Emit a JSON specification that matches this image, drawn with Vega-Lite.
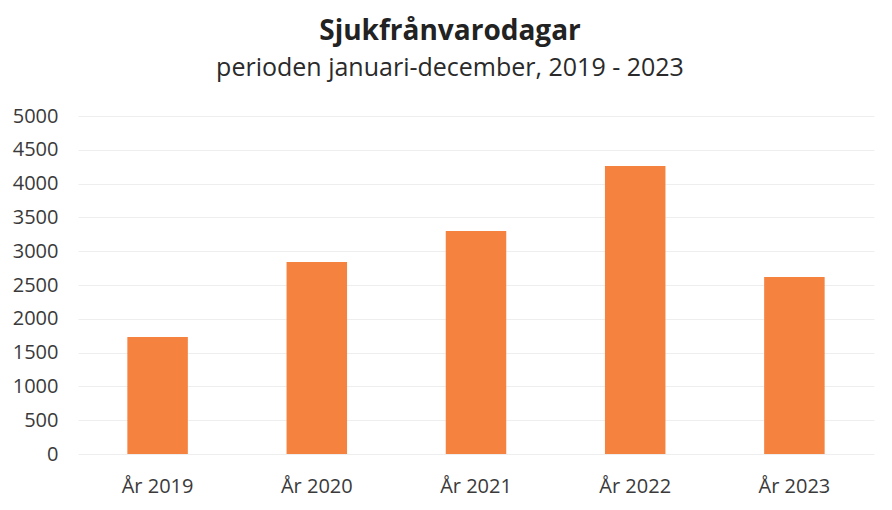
{
  "$schema": "https://vega.github.io/schema/vega-lite/v6.json",
  "width": 796,
  "height": 338,
  "autosize": {"type": "none"},
  "padding": {"left": 78, "top": 116, "right": 18, "bottom": 56},
  "background": "white",
  "title": {
    "text": "Sjukfrånvarodagar",
    "subtitle": "perioden januari-december, 2019 - 2023",
    "anchor": "middle",
    "dx": -26,
    "offset": 25,
    "font": "Open Sans",
    "fontSize": 28,
    "fontWeight": "bold",
    "color": "#222222",
    "subtitleFont": "Open Sans",
    "subtitleFontSize": 25,
    "subtitleColor": "#2a2a2a",
    "subtitlePadding": 10
  },
  "data": {
    "values": [
      {"year": "År 2019", "days": 1730},
      {"year": "År 2020", "days": 2840},
      {"year": "År 2021", "days": 3300},
      {"year": "År 2022", "days": 4260},
      {"year": "År 2023", "days": 2620}
    ]
  },
  "mark": {"type": "bar", "color": "#F5833F"},
  "encoding": {
    "x": {
      "field": "year",
      "type": "nominal",
      "sort": null,
      "scale": {"paddingInner": 0.62, "paddingOuter": 0.31},
      "axis": {
        "title": null,
        "labelAngle": 0,
        "domain": false,
        "ticks": false,
        "grid": false,
        "labelFont": "Open Sans",
        "labelFontSize": 20,
        "labelColor": "#3a3a3a",
        "labelPadding": 22
      }
    },
    "y": {
      "field": "days",
      "type": "quantitative",
      "scale": {"domain": [0, 5000]},
      "axis": {
        "title": null,
        "values": [0, 500, 1000, 1500, 2000, 2500, 3000, 3500, 4000, 4500, 5000],
        "format": "d",
        "domain": false,
        "ticks": false,
        "grid": true,
        "gridColor": "#eeeeee",
        "gridWidth": 1,
        "labelFont": "Open Sans",
        "labelFontSize": 20,
        "labelColor": "#3a3a3a",
        "labelPadding": 20
      }
    }
  },
  "config": {"view": {"stroke": null}}
}
